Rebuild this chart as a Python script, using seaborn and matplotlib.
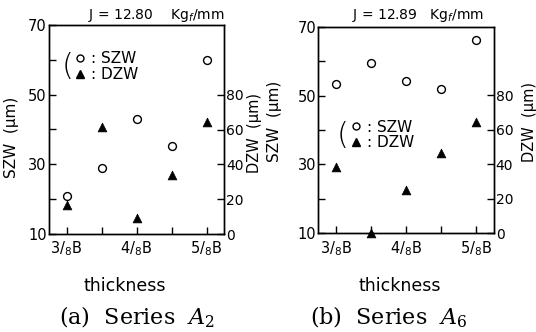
import matplotlib
matplotlib.use("Agg")
import matplotlib.pyplot as plt
from matplotlib.lines import Line2D
import seaborn as sns
import pandas as pd

# ---- data ----
positions = [0, 1, 2, 3, 4]
tick_labels = ["3/$_8$B", "", "4/$_8$B", "", "5/$_8$B"]
szw_a = [21, 29, 43, 35.4, 60]
dzw_a = [16.6, 61.7, 9.3, 33.9, 64.4]
szw_b = [53.4, 59.4, 54.3, 51.9, 66.1]
dzw_b = [38.5, 0.3, 25, 46.5, 64.7]
titles = ["J = 12.80    Kg$_f$/mm", "J = 12.89   Kg$_f$/mm"]
captions = ["(a)  Series  $A_2$", "(b)  Series  $A_6$"]

sns.set_style("ticks")
plt.rcParams["font.family"] = ["DejaVu Sans"]
plt.rcParams["mathtext.fontset"] = "dejavusans"
plt.rcParams["text.color"] = "black"
plt.rcParams["axes.labelcolor"] = "black"
plt.rcParams["xtick.color"] = "black"
plt.rcParams["ytick.color"] = "black"

fig = plt.figure(figsize=(5.36, 3.32), dpi=100)
axes_rects = [
    [49 / 536, (332 - 234) / 332, 175 / 536, 209 / 332],
    [318.3 / 536, (332 - 233.3) / 332, 175.4 / 536, 206.7 / 332],
]
leg_pos = [(0.145, 0.80), (0.18, 0.475)]
brace_pos = [(0.14, 0.80), (0.175, 0.475)]
title_x = [0.292, 0.78]
xlabel_x = [0.233, 0.745]
cap_x = [0.255, 0.726]
ylabL_x = [0.022, 0.513]
ylabL_y = [0.587, 0.633]
ylabR_x = [0.474, 0.988]
ylabR_y = [0.60, 0.633]

datasets = [(szw_a, dzw_a), (szw_b, dzw_b)]
for i, (szw, dzw) in enumerate(datasets):
    ax = fig.add_axes(axes_rects[i])
    ax2 = ax.twinx()
    df = pd.DataFrame({"pos": positions, "SZW": szw, "DZW": dzw})
    sns.scatterplot(data=df, x="pos", y="SZW", ax=ax, marker="o", s=32,
                    facecolor="white", edgecolor="black", linewidth=1.0, zorder=3)
    sns.scatterplot(data=df, x="pos", y="DZW", ax=ax2, marker="^", s=40,
                    color="black", edgecolor="black", linewidth=0.5, zorder=3,
                    clip_on=False)
    ax.set_xlim(-0.5, 4.5)
    ax.set_ylim(10, 70)
    ax2.set_ylim(0, 120)
    ax.set_xticks(positions)
    ax.set_xticklabels(tick_labels, fontsize=10.5)
    ax.set_yticks([10, 20, 30, 40, 50, 60, 70])
    ax.set_yticklabels(["10", "", "30", "", "50", "", "70"], fontsize=10.5)
    ax2.set_yticks([0, 20, 40, 60, 80])
    ax2.set_yticklabels(["0", "20", "40", "60", "80"], fontsize=10)
    ax.set_xlabel("")
    ax.set_ylabel("")
    ax2.set_ylabel("")
    for a in (ax, ax2):
        a.tick_params(direction="in", length=5, width=1, pad=1.5, colors="black")
        for sp in a.spines.values():
            sp.set_visible(True)
            sp.set_linewidth(1.0)
            sp.set_color("black")
    ax.tick_params(axis="x", pad=4)

    handles = [
        Line2D([], [], marker="o", linestyle="none", markersize=5,
               markerfacecolor="white", markeredgecolor="black"),
        Line2D([], [], marker="^", linestyle="none", markersize=5.5,
               markerfacecolor="black", markeredgecolor="black"),
    ]
    ax.legend(handles, [": SZW", ": DZW"], loc="center left",
              bbox_to_anchor=leg_pos[i], frameon=False, fontsize=11,
              handlelength=0.8, handletextpad=0.3, labelspacing=0.05,
              borderpad=0, borderaxespad=0)
    ax.text(brace_pos[i][0], brace_pos[i][1], "(", transform=ax.transAxes,
            fontsize=22, ha="right", va="center", fontweight="light")

    fig.text(title_x[i], 0.952, titles[i], fontsize=10, ha="center", va="center")
    fig.text(xlabel_x[i], 0.14, "thickness", fontsize=12.5, ha="center", va="center")
    fig.text(cap_x[i], 0.045, captions[i], fontsize=16, ha="center", va="center",
             family=["DejaVu Serif"], math_fontfamily="dejavuserif")
    fig.text(ylabL_x[i], ylabL_y[i], "SZW  (μm)", fontsize=11,
             rotation=90, ha="center", va="center")
    fig.text(ylabR_x[i], ylabR_y[i], "DZW  (μm)", fontsize=10.5,
             rotation=90, ha="center", va="center")

fig.savefig("out.png", dpi=100)
